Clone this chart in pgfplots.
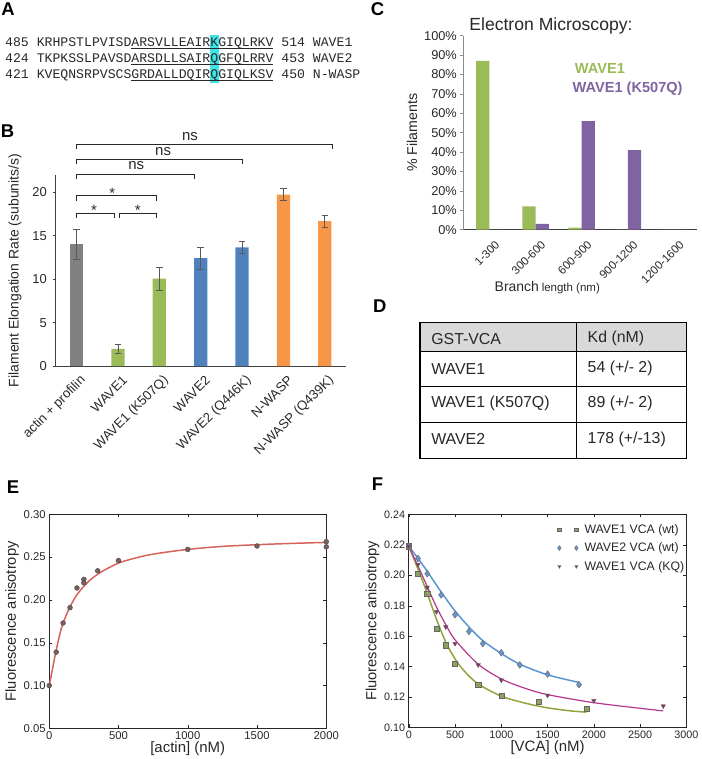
\documentclass[border=0pt]{standalone}
\usepackage{fontspec}
\setmainfont{Liberation Sans}
\setmonofont{Liberation Mono}
\usepackage{pgfplots}
\pgfplotsset{compat=1.18}
\definecolor{bGray}{RGB}{128,128,128}
\definecolor{xlGreen}{RGB}{155,187,89}
\definecolor{xlBlue}{RGB}{79,129,189}
\definecolor{xlOrange}{RGB}{247,150,70}
\definecolor{xlPurple}{RGB}{128,100,162}
\definecolor{hlCyan}{RGB}{60,230,230}
\definecolor{tGray}{RGB}{217,217,217}
\definecolor{eRed}{RGB}{214,100,90}
\definecolor{eMark}{RGB}{125,95,95}
\definecolor{fGreenL}{RGB}{140,165,60}
\definecolor{fGreenM}{RGB}{140,160,95}
\definecolor{fBlueL}{RGB}{90,150,210}
\definecolor{fBlueM}{RGB}{105,150,200}
\definecolor{fPurpL}{RGB}{180,55,140}
\definecolor{fPurpM}{RGB}{135,50,100}
\definecolor{txt}{RGB}{40,40,40}
\newcommand{\fs}[1]{\fontsize{#1}{#1}\selectfont}
\begin{document}
\begin{tikzpicture}
\path (0pt,0pt) rectangle (700pt,759pt);
% panel letters
\begin{scope}[every node/.style={font=\fs{18.5}\bfseries, inner sep=0}]
\node at (8pt,750pt) {A};
\node at (7.5pt,627.3pt) {B};
\node at (378pt,750pt) {C};
\node at (380.3pt,452.3pt) {D};
\node at (13pt,271pt) {E};
\node at (378pt,274pt) {F};
\end{scope}
% ---------- Panel A ----------
\fill[hlCyan] (210.6pt,724pt) rectangle (219.2pt,676pt);
\begin{scope}[every node/.style={anchor=base west, inner sep=0, text=txt, font=\ttfamily\fs{13.17}}]
\node at (5pt,712pt) {485 KRHPSTLPVISDARSVLLEAIRKGIQLRKV 514 WAVE1};
\node at (5pt,696pt) {424 TKPKSSLPAVSDARSDLLSAIRQGFQLRRV 453 WAVE2};
\node at (5pt,680pt) {421 KVEQNSRPVSCSGRDALLDQIRQGIQLKSV 450 N-WASP};
\end{scope}
\draw[txt, line width=0.8pt] (131.4pt,710.3pt) -- (273.6pt,710.3pt);
\draw[txt, line width=0.8pt] (131.4pt,694.5pt) -- (273.6pt,694.5pt);
\draw[txt, line width=0.8pt] (131.4pt,678.7pt) -- (273.6pt,678.7pt);
% ---------- Panel B ----------
\begin{axis}[
  at={(56pt,392.3pt)}, anchor=south west, scale only axis,
  width=290pt, height=191.8pt,
  xmin=-0.5, xmax=6.5, ymin=0, ymax=22,
  axis x line*=bottom, axis y line*=left,
  x axis line style={draw=black!75, -, line width=0.9pt},
  y axis line style={draw=black!75, -, line width=0.9pt},
  xtick={0,...,6}, ytick={0,5,...,20},
  xticklabels={actin + profilin, WAVE1, WAVE1 (K507Q), WAVE2, WAVE2 (Q446K), N-WASP, N-WASP (Q439K)},
  xticklabel style={xshift=7pt, yshift=-9pt, rotate=45, anchor=east, inner sep=0pt, font=\fs{13.2}, text=txt},
  yticklabel style={font=\fs{13}, text=txt, xshift=-2.5pt},
  xtick style={draw=none},
  ytick style={draw=black!75, line width=0.8pt},
  tick align=outside, major tick length=3pt,
  ylabel={Filament Elongation Rate (subunits/s)},
  ylabel style={font=\fs{14}, text=txt},
  ylabel shift=4pt,
  clip=false,
  /pgf/number format/assume math mode=true,
  error bars/error bar style={draw=black!65, line width=0.9pt},
  error bars/error mark options={draw=black!65, rotate=90, mark size=3.3pt, line width=0.9pt},
]
\addplot[ybar, bar width=13.3pt, bar shift=0pt, fill=bGray, draw=none,
  error bars/.cd, y dir=both, y explicit] coordinates {(0,14.0) +- (0,1.75)};
\addplot[ybar, bar width=13.3pt, bar shift=0pt, fill=xlGreen, draw=none,
  error bars/.cd, y dir=both, y explicit] coordinates {(1,2.0) +- (0,0.5) (2,10.05) +- (0,1.3)};
\addplot[ybar, bar width=13.3pt, bar shift=0pt, fill=xlBlue, draw=none,
  error bars/.cd, y dir=both, y explicit] coordinates {(3,12.4) +- (0,1.25) (4,13.65) +- (0,0.65)};
\addplot[ybar, bar width=13.3pt, bar shift=0pt, fill=xlOrange, draw=none,
  error bars/.cd, y dir=both, y explicit] coordinates {(5,19.7) +- (0,0.7) (6,16.65) +- (0,0.68)};
% significance brackets
\begin{scope}[draw=txt, line width=0.9pt]
\draw (axis cs:0,24.9) -- (axis cs:0,25.5) -- (axis cs:6.19,25.5) -- (axis cs:6.19,24.9);
\draw (axis cs:0,23.2) -- (axis cs:0,23.8) -- (axis cs:4,23.8) -- (axis cs:4,23.2);
\draw (axis cs:0,21.45) -- (axis cs:0,22.05) -- (axis cs:2.84,22.05) -- (axis cs:2.84,21.45);
\draw (axis cs:0,19.0) -- (axis cs:0,19.6) -- (axis cs:1.93,19.6) -- (axis cs:1.93,19.0);
\draw (axis cs:0,17.0) -- (axis cs:0,17.6) -- (axis cs:0.91,17.6) -- (axis cs:0.91,17.0);
\draw (axis cs:1.04,17.0) -- (axis cs:1.04,17.6) -- (axis cs:1.93,17.6) -- (axis cs:1.93,17.0);
\end{scope}
\begin{scope}[every node/.style={font=\fs{15}, text=txt, inner sep=0}]
\node at (axis cs:2.74,26.4) {ns};
\node at (axis cs:2.09,24.7) {ns};
\node at (axis cs:1.44,23.0) {ns};
\node at (axis cs:0.86,19.9) {*};
\node at (axis cs:0.42,17.9) {*};
\node at (axis cs:1.48,17.9) {*};
\end{scope}
\end{axis}
% ---------- Panel C ----------
\begin{axis}[
  at={(464pt,529pt)}, anchor=south west, scale only axis,
  width=234pt, height=194.3pt,
  xmin=-0.564, xmax=4.5, ymin=0, ymax=100,
  axis x line*=bottom, axis y line*=left,
  x axis line style={draw=black!75, -, line width=0.9pt},
  y axis line style={draw=black!45, -, line width=0.8pt},
  xtick={0,...,4}, ytick={0,10,...,100},
  xticklabels={1-300, 300-600, 600-900, 900-1200, 1200-1600},
  yticklabels={0\%,10\%,20\%,30\%,40\%,50\%,60\%,70\%,80\%,90\%,100\%},
  xticklabel style={xshift=8pt, yshift=-10pt, rotate=45, anchor=east, inner sep=0pt, font=\fs{11.5}, text=txt},
  yticklabel style={font=\fs{12.8}, text=txt},
  xtick style={draw=none},
  ytick style={draw=black!45, line width=0.7pt},
  tick align=outside, major tick length=3pt,
  ylabel={\% Filaments},
  ylabel style={font=\fs{14.2}, text=txt},
  clip=false,
]
\addplot[ybar, bar width=13.3pt, bar shift=-6.65pt, fill=xlGreen, draw=none]
  coordinates {(0,87) (1,12) (2,1) (3,0) (4,0)};
\addplot[ybar, bar width=13.3pt, bar shift=6.65pt, fill=xlPurple, draw=none]
  coordinates {(0,0) (1,3) (2,56) (3,41) (4,0)};
\node[font=\fs{14.6}\bfseries, text=xlGreen, anchor=base west, inner sep=0] at (axis cs:1.85,80.3) {WAVE1};
\node[font=\fs{14.6}\bfseries, text=xlPurple, anchor=base west, inner sep=0] at (axis cs:1.8,70.8) {WAVE1 (K507Q)};
\end{axis}
\node[font=\fs{17.6}, text=txt] at (551.7pt,733pt) {Electron Microscopy:};
\node[text=txt, anchor=base] at (548pt,467pt) {{\fs{14}Branch} {\fs{11.5}length (nm)}};
% ---------- Panel D ----------
\fill[tGray] (420.7pt,436.3pt) rectangle (687.2pt,407.3pt);
\draw[black, line width=1.3pt] (420.7pt,436.3pt) rectangle (687.2pt,300pt);
\draw[black, line width=1.3pt] (420.7pt,407.3pt) -- (687.2pt,407.3pt);
\draw[black, line width=1.3pt] (420.7pt,371.7pt) -- (687.2pt,371.7pt);
\draw[black, line width=1.3pt] (420.7pt,335.7pt) -- (687.2pt,335.7pt);
\draw[black, line width=1.3pt] (577pt,436.3pt) -- (577pt,300pt);
\begin{scope}[every node/.style={font=\fs{15.9}, text=txt, anchor=west, inner sep=0}]
\node at (431.7pt,419.7pt) {GST-VCA};
\node at (588.3pt,419.7pt) {Kd (nM)};
\node at (431.7pt,389.7pt) {WAVE1};
\node at (588.3pt,389.7pt) {54 (+/- 2)};
\node at (431.7pt,355pt) {WAVE1 (K507Q)};
\node at (588.3pt,355pt) {89 (+/- 2)};
\node at (431.7pt,319pt) {WAVE2};
\node at (588.3pt,319pt) {178 (+/-13)};
\end{scope}
% ---------- Panel E ----------
\begin{axis}[
  at={(49.3pt,29.7pt)}, anchor=south west, scale only axis,
  width=277.4pt, height=214.3pt,
  xmin=0, xmax=2000, ymin=0.05, ymax=0.30,
  xtick={0,500,1000,1500,2000}, ytick={0.05,0.10,...,0.30},
  tick align=inside, tick pos=both, major tick length=3pt,
  axis line style={line width=0.8pt, draw=black!85},
  tick style={draw=black!85},
  ticklabel style={font=\fs{11.3}, text=txt},
  yticklabel style={/pgf/number format/.cd, fixed, fixed zerofill, precision=2},
  /pgf/number format/set thousands separator={},
  /pgf/number format/assume math mode=true,
  xlabel={[actin] (nM)}, ylabel={Fluorescence anisotropy},
  xlabel style={font=\fs{15}, text=txt, yshift=5pt},
  ylabel style={font=\fs{14.7}, text=txt, yshift=-2pt},
  clip=false,
]
\addplot[eRed, line width=1.5pt, smooth] coordinates {
 (0,0.100) (15,0.112) (30,0.125) (50,0.141) (75,0.159) (100,0.173) (150,0.192)
 (200,0.206) (250,0.216) (300,0.224) (350,0.230) (400,0.235) (500,0.243)
 (600,0.248) (750,0.2535) (1000,0.2590) (1250,0.2625) (1500,0.2645) (1750,0.2660) (2000,0.2672)};
\addplot[only marks, mark=*, mark size=2.4pt, mark options={fill=eMark, draw=black!70, line width=0.5pt}] coordinates {
 (0,0.100) (50,0.139) (100,0.173) (150,0.191) (200,0.214) (250,0.224) (250,0.220)
 (350,0.234) (500,0.246) (1000,0.259) (1500,0.263) (2000,0.268) (2000,0.262)};
\end{axis}
% ---------- Panel F ----------
\begin{axis}[
  at={(409.3pt,30.7pt)}, anchor=south west, scale only axis,
  width=278pt, height=213.3pt,
  xmin=0, xmax=3000, ymin=0.10, ymax=0.24,
  xtick={0,500,...,3000}, ytick={0.10,0.12,...,0.24},
  tick align=inside, tick pos=both, major tick length=3pt,
  axis line style={line width=0.8pt, draw=black!85},
  tick style={draw=black!85},
  ticklabel style={font=\fs{10.8}, text=txt},
  yticklabel style={/pgf/number format/.cd, fixed, fixed zerofill, precision=2},
  /pgf/number format/set thousands separator={},
  /pgf/number format/assume math mode=true,
  xlabel={[VCA] (nM)}, ylabel={Fluorescence anisotropy},
  xlabel style={font=\fs{15}, text=txt, yshift=5pt},
  ylabel style={font=\fs{14.7}, text=txt, yshift=-2pt},
  legend image code/.code={\draw[#1, every mark/.append style={scale=0.72}] plot coordinates {(0pt,0pt) (17pt,0pt)}; \path (23pt,0pt);},
  legend style={at={(rel axis cs:1,1)}, anchor=north east, draw=none, fill=none,
    font=\fs{12.3}, text=txt, row sep=4pt, xshift=0pt, yshift=-8pt, inner sep=0pt},
  legend cell align=left,
  clip=false,
]
\addplot[fGreenL, line width=1.5pt, smooth, forget plot] coordinates {
 (0,0.219) (100,0.204) (200,0.188) (300,0.171) (400,0.156) (500,0.145) (600,0.137)
 (750,0.1285) (1000,0.1205) (1250,0.116) (1500,0.1128) (1750,0.1108) (1920,0.110)};
\addplot[fBlueL, line width=1.5pt, smooth, forget plot] coordinates {
 (0,0.219) (100,0.211) (200,0.2025) (350,0.189) (500,0.1765) (650,0.166) (800,0.157)
 (1000,0.1485) (1200,0.1415) (1500,0.1345) (1840,0.1295)};
\addplot[fPurpL, line width=1.2pt, smooth, forget plot] coordinates {
 (0,0.219) (100,0.206) (200,0.1925) (300,0.179) (400,0.1675) (500,0.1575) (750,0.1415)
 (1000,0.1318) (1250,0.1258) (1500,0.1215) (2000,0.1162) (2500,0.1125) (2750,0.1108)};
\addplot[only marks, mark=square*, mark size=2.6pt, mark options={fill=fGreenM, draw=black!60, line width=0.4pt}] coordinates {
 (0,0.219) (100,0.201) (200,0.188) (300,0.165) (400,0.154) (500,0.142) (750,0.128)
 (1000,0.121) (1400,0.117) (1920,0.112)};
\addlegendentry{WAVE1 VCA (wt)}
\addplot[only marks, mark=diamond*, mark size=3.4pt, mark options={fill=fBlueM, draw=black!60, line width=0.4pt}] coordinates {
 (0,0.219) (100,0.211) (200,0.201) (350,0.187) (500,0.174) (650,0.163) (800,0.155)
 (1000,0.149) (1200,0.141) (1500,0.135) (1840,0.128)};
\addlegendentry{WAVE2 VCA (wt)}
\addplot[only marks, mark=triangle*, mark size=2.6pt, mark options={rotate=180, fill=fPurpM, draw=black!60, line width=0.4pt}] coordinates {
 (0,0.219) (100,0.207) (200,0.192) (300,0.176) (400,0.166) (500,0.155) (750,0.141)
 (1000,0.131) (1500,0.121) (2000,0.1175) (2750,0.114)};
\addlegendentry{WAVE1 VCA (KQ)}
\end{axis}
\end{tikzpicture}
\end{document}
